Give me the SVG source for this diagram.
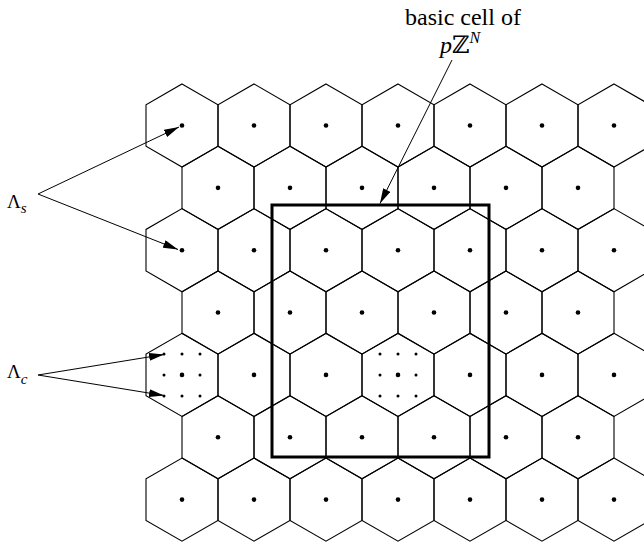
<svg xmlns="http://www.w3.org/2000/svg" xmlns:xlink="http://www.w3.org/1999/xlink" width="644" height="542" viewBox="0 0 644 542">
<style>
.hex{fill:none;stroke:#000;stroke-width:1.1;stroke-linejoin:miter}
.dot{fill:#000}
.conn{fill:none;stroke:#000;stroke-width:1}
.cell{fill:none;stroke:#000;stroke-width:3}
.lbl{font-family:"Liberation Serif","DejaVu Serif",serif;fill:#000}
.it{font-style:italic}
</style>
<defs>
<polygon id="hex" class="hex" points="0,-41.57 36,-20.78 36,20.78 0,41.57 -36,20.78 -36,-20.78"/>
<circle id="d" class="dot" r="2.3"/>
<circle id="sd" class="dot" r="1.5"/>
<marker id="ah" markerWidth="16" markerHeight="8" refX="15" refY="4" orient="auto" markerUnits="userSpaceOnUse">
<path d="M0,0 L15,4 L0,8 z" fill="#000"/>
</marker>
</defs>

<g id="cells">
<g id="c0-0" transform="translate(182,125.5)"><use xlink:href="#hex"/><use xlink:href="#d"/></g>
<g id="c0-1" transform="translate(254,125.5)"><use xlink:href="#hex"/><use xlink:href="#d"/></g>
<g id="c0-2" transform="translate(326,125.5)"><use xlink:href="#hex"/><use xlink:href="#d"/></g>
<g id="c0-3" transform="translate(398,125.5)"><use xlink:href="#hex"/><use xlink:href="#d"/></g>
<g id="c0-4" transform="translate(470,125.5)"><use xlink:href="#hex"/><use xlink:href="#d"/></g>
<g id="c0-5" transform="translate(542,125.5)"><use xlink:href="#hex"/><use xlink:href="#d"/></g>
<g id="c0-6" transform="translate(614,125.5)"><use xlink:href="#hex"/><use xlink:href="#d"/></g>

<g id="c1-0" transform="translate(218,187.85)"><use xlink:href="#hex"/><use xlink:href="#d"/></g>
<g id="c1-1" transform="translate(290,187.85)"><use xlink:href="#hex"/><use xlink:href="#d"/></g>
<g id="c1-2" transform="translate(362,187.85)"><use xlink:href="#hex"/><use xlink:href="#d"/></g>
<g id="c1-3" transform="translate(434,187.85)"><use xlink:href="#hex"/><use xlink:href="#d"/></g>
<g id="c1-4" transform="translate(506,187.85)"><use xlink:href="#hex"/><use xlink:href="#d"/></g>
<g id="c1-5" transform="translate(578,187.85)"><use xlink:href="#hex"/><use xlink:href="#d"/></g>

<g id="c2-0" transform="translate(182,250.2)"><use xlink:href="#hex"/><use xlink:href="#d"/></g>
<g id="c2-1" transform="translate(254,250.2)"><use xlink:href="#hex"/><use xlink:href="#d"/></g>
<g id="c2-2" transform="translate(326,250.2)"><use xlink:href="#hex"/><use xlink:href="#d"/></g>
<g id="c2-3" transform="translate(398,250.2)"><use xlink:href="#hex"/><use xlink:href="#d"/></g>
<g id="c2-4" transform="translate(470,250.2)"><use xlink:href="#hex"/><use xlink:href="#d"/></g>
<g id="c2-5" transform="translate(542,250.2)"><use xlink:href="#hex"/><use xlink:href="#d"/></g>
<g id="c2-6" transform="translate(614,250.2)"><use xlink:href="#hex"/><use xlink:href="#d"/></g>

<g id="c3-0" transform="translate(218,312.55)"><use xlink:href="#hex"/><use xlink:href="#d"/></g>
<g id="c3-1" transform="translate(290,312.55)"><use xlink:href="#hex"/><use xlink:href="#d"/></g>
<g id="c3-2" transform="translate(362,312.55)"><use xlink:href="#hex"/><use xlink:href="#d"/></g>
<g id="c3-3" transform="translate(434,312.55)"><use xlink:href="#hex"/><use xlink:href="#d"/></g>
<g id="c3-4" transform="translate(506,312.55)"><use xlink:href="#hex"/><use xlink:href="#d"/></g>
<g id="c3-5" transform="translate(578,312.55)"><use xlink:href="#hex"/><use xlink:href="#d"/></g>

<g id="c4-0" transform="translate(182,374.9)"><use xlink:href="#hex"/><use xlink:href="#d"/>
<use xlink:href="#sd" x="-18" y="-21"/><use xlink:href="#sd" x="0" y="-21"/><use xlink:href="#sd" x="18" y="-21"/>
<use xlink:href="#sd" x="-18" y="0"/><use xlink:href="#sd" x="18" y="0"/>
<use xlink:href="#sd" x="-18" y="21"/><use xlink:href="#sd" x="0" y="21"/><use xlink:href="#sd" x="18" y="21"/></g>
<g id="c4-1" transform="translate(254,374.9)"><use xlink:href="#hex"/><use xlink:href="#d"/></g>
<g id="c4-2" transform="translate(326,374.9)"><use xlink:href="#hex"/><use xlink:href="#d"/></g>
<g id="c4-3" transform="translate(398,374.9)"><use xlink:href="#hex"/><use xlink:href="#d"/>
<use xlink:href="#sd" x="-18" y="-21"/><use xlink:href="#sd" x="0" y="-21"/><use xlink:href="#sd" x="18" y="-21"/>
<use xlink:href="#sd" x="-18" y="0"/><use xlink:href="#sd" x="18" y="0"/>
<use xlink:href="#sd" x="-18" y="21"/><use xlink:href="#sd" x="0" y="21"/><use xlink:href="#sd" x="18" y="21"/></g>
<g id="c4-4" transform="translate(470,374.9)"><use xlink:href="#hex"/><use xlink:href="#d"/></g>
<g id="c4-5" transform="translate(542,374.9)"><use xlink:href="#hex"/><use xlink:href="#d"/></g>
<g id="c4-6" transform="translate(614,374.9)"><use xlink:href="#hex"/><use xlink:href="#d"/></g>

<g id="c5-0" transform="translate(218,437.25)"><use xlink:href="#hex"/><use xlink:href="#d"/></g>
<g id="c5-1" transform="translate(290,437.25)"><use xlink:href="#hex"/><use xlink:href="#d"/></g>
<g id="c5-2" transform="translate(362,437.25)"><use xlink:href="#hex"/><use xlink:href="#d"/></g>
<g id="c5-3" transform="translate(434,437.25)"><use xlink:href="#hex"/><use xlink:href="#d"/></g>
<g id="c5-4" transform="translate(506,437.25)"><use xlink:href="#hex"/><use xlink:href="#d"/></g>
<g id="c5-5" transform="translate(578,437.25)"><use xlink:href="#hex"/><use xlink:href="#d"/></g>

<g id="c6-0" transform="translate(182,499.6)"><use xlink:href="#hex"/><use xlink:href="#d"/></g>
<g id="c6-1" transform="translate(254,499.6)"><use xlink:href="#hex"/><use xlink:href="#d"/></g>
<g id="c6-2" transform="translate(326,499.6)"><use xlink:href="#hex"/><use xlink:href="#d"/></g>
<g id="c6-3" transform="translate(398,499.6)"><use xlink:href="#hex"/><use xlink:href="#d"/></g>
<g id="c6-4" transform="translate(470,499.6)"><use xlink:href="#hex"/><use xlink:href="#d"/></g>
<g id="c6-5" transform="translate(542,499.6)"><use xlink:href="#hex"/><use xlink:href="#d"/></g>
<g id="c6-6" transform="translate(614,499.6)"><use xlink:href="#hex"/><use xlink:href="#d"/></g>
</g>

<g id="basic-cell">
<rect class="cell" x="272" y="205" width="217" height="252"/>
</g>

<g id="labels">
<text class="lbl" x="405" y="25" font-size="24">basic cell of</text>
<text class="lbl" x="440" y="53" font-size="24"><tspan class="it">p</tspan>ℤ<tspan class="it" font-size="16" dy="-10">N</tspan></text>
<text class="lbl" x="7" y="208" font-size="19">Λ<tspan class="it" font-size="15" dy="5">s</tspan></text>
<text class="lbl" x="7" y="378" font-size="19">Λ<tspan class="it" font-size="15" dy="6">c</tspan></text>
</g>

<g id="connectors">
<line class="conn" x1="38" y1="194" x2="179" y2="127" marker-end="url(#ah)"/>
<line class="conn" x1="38" y1="194" x2="178" y2="249.5" marker-end="url(#ah)"/>
<line class="conn" x1="38" y1="375" x2="164" y2="354.5" marker-end="url(#ah)"/>
<line class="conn" x1="38" y1="375" x2="164" y2="395.5" marker-end="url(#ah)"/>
<line class="conn" x1="452" y1="60" x2="380" y2="203.5" marker-end="url(#ah)"/>
</g>
</svg>
